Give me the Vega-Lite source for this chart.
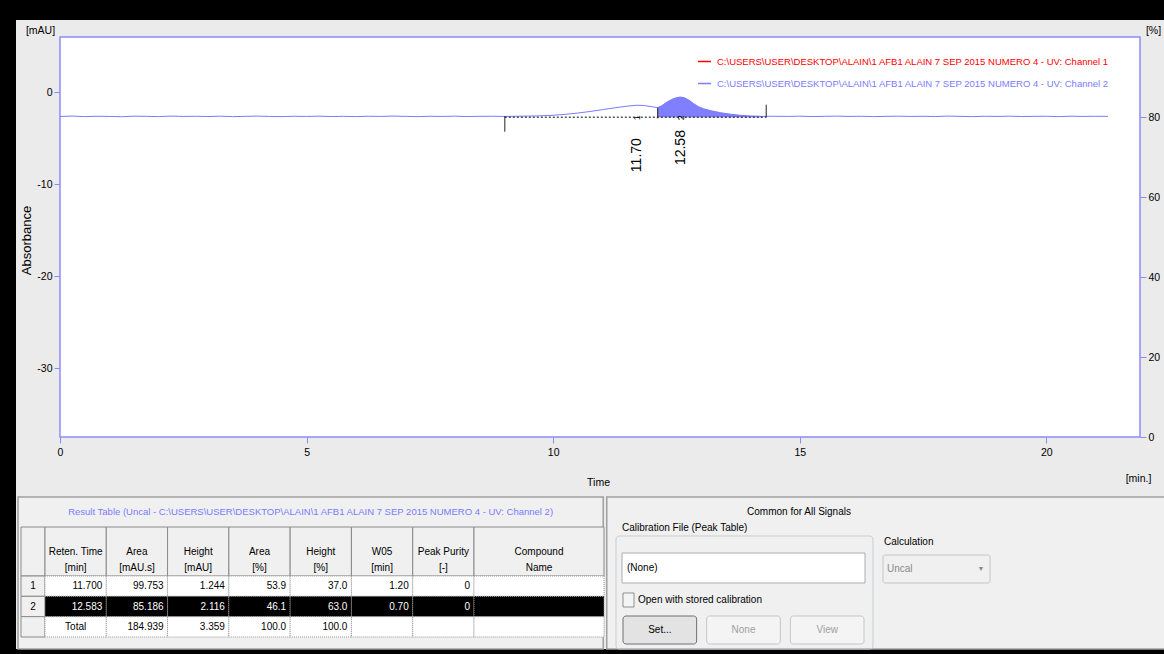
{
  "$schema": "https://vega.github.io/schema/vega-lite/v6.json",
  "width": 1148,
  "height": 629,
  "padding": {"left": 16, "top": 20, "right": 0, "bottom": 5},
  "autosize": {"type": "none"},
  "background": "#000000",
  "config": {
    "view": {"fill": "#ebebeb", "stroke": null},
    "font": "Liberation Sans",
    "text": {"fontSize": 10, "color": "#000000"},
    "axis": {"labelFont": "Liberation Sans", "titleFont": "Liberation Sans", "labelColor": "#000000", "titleColor": "#000000"},
    "legend": {"labelFont": "Liberation Sans"}
  },
  "datasets": {
    "trace": [
      {"time": 0, "signal": -2.64}, {"time": 0.25, "signal": -2.6}, {"time": 0.5, "signal": -2.66}, {"time": 0.75, "signal": -2.62},
      {"time": 1, "signal": -2.64}, {"time": 1.25, "signal": -2.67}, {"time": 1.5, "signal": -2.61}, {"time": 1.75, "signal": -2.63},
      {"time": 2, "signal": -2.66}, {"time": 2.25, "signal": -2.6}, {"time": 2.5, "signal": -2.64}, {"time": 2.75, "signal": -2.62},
      {"time": 3, "signal": -2.65}, {"time": 3.25, "signal": -2.61}, {"time": 3.5, "signal": -2.66}, {"time": 3.75, "signal": -2.63},
      {"time": 4, "signal": -2.6}, {"time": 4.25, "signal": -2.64}, {"time": 4.5, "signal": -2.66}, {"time": 4.75, "signal": -2.62},
      {"time": 5, "signal": -2.64}, {"time": 5.25, "signal": -2.61}, {"time": 5.5, "signal": -2.65}, {"time": 5.75, "signal": -2.63},
      {"time": 6, "signal": -2.66}, {"time": 6.25, "signal": -2.62}, {"time": 6.5, "signal": -2.64}, {"time": 6.75, "signal": -2.6},
      {"time": 7, "signal": -2.63}, {"time": 7.25, "signal": -2.66}, {"time": 7.5, "signal": -2.62}, {"time": 7.75, "signal": -2.64},
      {"time": 8, "signal": -2.61}, {"time": 8.25, "signal": -2.65}, {"time": 8.5, "signal": -2.63}, {"time": 8.75, "signal": -2.62},
      {"time": 9, "signal": -2.64}, {"time": 9.25, "signal": -2.62}, {"time": 9.5, "signal": -2.6}, {"time": 9.75, "signal": -2.57},
      {"time": 10, "signal": -2.51}, {"time": 10.25, "signal": -2.41}, {"time": 10.5, "signal": -2.27}, {"time": 10.75, "signal": -2.1},
      {"time": 11, "signal": -1.9}, {"time": 11.25, "signal": -1.7}, {"time": 11.5, "signal": -1.52}, {"time": 11.7, "signal": -1.42},
      {"time": 11.85, "signal": -1.46}, {"time": 12, "signal": -1.58}, {"time": 12.12, "signal": -1.68}, {"time": 12.2, "signal": -1.48},
      {"time": 12.3, "signal": -1.1}, {"time": 12.4, "signal": -0.8}, {"time": 12.5, "signal": -0.6}, {"time": 12.58, "signal": -0.53},
      {"time": 12.66, "signal": -0.6}, {"time": 12.75, "signal": -0.85}, {"time": 12.85, "signal": -1.25}, {"time": 12.95, "signal": -1.58},
      {"time": 13.05, "signal": -1.8}, {"time": 13.2, "signal": -2.02}, {"time": 13.4, "signal": -2.24}, {"time": 13.6, "signal": -2.4},
      {"time": 13.8, "signal": -2.52}, {"time": 14, "signal": -2.59}, {"time": 14.25, "signal": -2.63}, {"time": 14.5, "signal": -2.62},
      {"time": 14.75, "signal": -2.64}, {"time": 15, "signal": -2.61}, {"time": 15.25, "signal": -2.65}, {"time": 15.5, "signal": -2.63},
      {"time": 15.75, "signal": -2.6}, {"time": 16, "signal": -2.64}, {"time": 16.25, "signal": -2.62}, {"time": 16.5, "signal": -2.66},
      {"time": 16.75, "signal": -2.63}, {"time": 17, "signal": -2.61}, {"time": 17.25, "signal": -2.64}, {"time": 17.5, "signal": -2.62},
      {"time": 17.75, "signal": -2.65}, {"time": 18, "signal": -2.6}, {"time": 18.25, "signal": -2.63}, {"time": 18.5, "signal": -2.66},
      {"time": 18.75, "signal": -2.62}, {"time": 19, "signal": -2.64}, {"time": 19.25, "signal": -2.61}, {"time": 19.5, "signal": -2.65},
      {"time": 19.75, "signal": -2.63}, {"time": 20, "signal": -2.62}, {"time": 20.25, "signal": -2.66}, {"time": 20.5, "signal": -2.61},
      {"time": 20.75, "signal": -2.64}, {"time": 21, "signal": -2.62}, {"time": 21.25, "signal": -2.63}
    ],
    "peaks": [
      {"peak": "1", "rt": 11.7, "apex": -1.41, "label": "11.70"},
      {"peak": "2", "rt": 12.583, "apex": -0.53, "label": "12.58"}
    ],
    "baselines": [{"start": 9.02, "end": 14.32, "level": -2.72}],
    "markers": [
      {"time": 9.02, "upper": -2.6, "lower": -4.3},
      {"time": 12.12, "upper": -1.7, "lower": -2.85},
      {"time": 14.32, "upper": -1.36, "lower": -2.75}
    ],
    "panels": [
      {"side": "left", "pane": "Result Table (Uncal - C:\\USERS\\USER\\DESKTOP\\ALAIN\\1 AFB1 ALAIN 7 SEP 2015 NUMERO 4 - UV: Channel 2)"},
      {"side": "right", "pane": "Common for All Signals"}
    ],
    "columns": [
      {"key": "#", "caption": ""},
      {"key": "rt", "caption": "Reten. Time\n[min]"},
      {"key": "area", "caption": "Area\n[mAU.s]"},
      {"key": "height", "caption": "Height\n[mAU]"},
      {"key": "areaPct", "caption": "Area\n[%]"},
      {"key": "heightPct", "caption": "Height\n[%]"},
      {"key": "w05", "caption": "W05\n[min]"},
      {"key": "purity", "caption": "Peak Purity\n[-]"},
      {"key": "compound", "caption": "Compound\nName"}
    ],
    "results": [
      {"row": "1", "rt": "11.700", "area": "99.753", "height": "1.244", "areaPct": "53.9", "heightPct": "37.0", "w05": "1.20", "purity": "0", "compound": ""},
      {"row": "2", "rt": "12.583", "area": "85.186", "height": "2.116", "areaPct": "46.1", "heightPct": "63.0", "w05": "0.70", "purity": "0", "compound": ""},
      {"row": "Total", "rt": "Total", "area": "184.939", "height": "3.359", "areaPct": "100.0", "heightPct": "100.0", "w05": "", "purity": "", "compound": ""}
    ],
    "form": [
      {"setting": "Calibration File (Peak Table)", "value": "(None)"},
      {"setting": "Calculation", "value": "Uncal"}
    ],
    "options": [{"option": "Open with stored calibration", "checked": false}],
    "buttons": [
      {"button": "Set...", "enabled": true},
      {"button": "None", "enabled": false},
      {"button": "View", "enabled": false}
    ]
  },
  "resolve": {
    "scale": {"x": "independent", "y": "independent", "color": "independent"},
    "axis": {"x": "independent", "y": "independent"},
    "legend": {"color": "independent"}
  },
  "layer": [
    {
      "data": {"name": "panels"},
      "layer": [
        {
          "mark": {"type": "rect", "fill": "#f0f0f0", "stroke": "#a0a0a0", "strokeWidth": 1.5},
          "encoding": {
            "x": {"field": "side", "type": "nominal", "scale": {"type": "band", "domain": ["left", "right"], "range": [2, 1176], "paddingInner": 0.006, "paddingOuter": 0}, "axis": null},
            "y": {"datum": "dock", "type": "nominal", "scale": {"type": "band", "domain": ["dock"], "range": [477, 629], "paddingInner": 0, "paddingOuter": 0}, "axis": null}
          }
        },
        {
          "transform": [{"filter": "datum.side === 'left'"}],
          "mark": {"type": "text", "color": "#7b7bff", "align": "center", "baseline": "middle", "dy": 15, "fontSize": 9.5},
          "encoding": {
            "x": {"field": "side", "type": "nominal", "scale": {"type": "band", "domain": ["left", "right"], "range": [2, 1176], "paddingInner": 0.006, "paddingOuter": 0}, "axis": null},
            "y": {"datum": "dock", "type": "nominal", "bandPosition": 0, "scale": {"type": "band", "domain": ["dock"], "range": [477, 629], "paddingInner": 0, "paddingOuter": 0}, "axis": null},
            "text": {"field": "pane"}
          }
        }
      ]
    },
    {
      "resolve": {
        "scale": {"color": "independent"},
        "axis": {"x": "independent", "y": "independent"},
        "legend": {"color": "independent"}
      },
      "layer": [
        {
          "data": {"values": [{"region": "plot"}]},
          "mark": {"type": "rect", "fill": "#ffffff", "stroke": "#8c8cff", "strokeWidth": 1.5},
          "encoding": {
            "x": {"datum": 0, "type": "quantitative", "scale": {"domain": [0, 21.9], "range": [44, 1124], "nice": false, "zero": false},
              "axis": {"orient": "bottom", "offset": -212, "values": [0, 5, 10, 15, 20], "format": "d", "grid": false, "domain": false, "tickColor": "#8c8cff", "tickSize": 6, "labelFlush": false, "labelPadding": 4, "labelFontSize": 10.5, "labelOverlap": false, "title": "Time", "titleFontSize": 10.5, "titleFontWeight": "normal", "titleX": 582, "titleY": 45, "titleAlign": "center", "titleBaseline": "middle", "titleAngle": 0}},
            "x2": {"datum": 21.9},
            "y": {"datum": -37.5, "type": "quantitative", "scale": {"domain": [-37.5, 6], "range": [417, 17], "nice": false, "zero": false},
              "axis": {"orient": "left", "offset": -44, "values": [0, -10, -20, -30], "labelExpr": "'' + datum.value", "grid": false, "domain": false, "tickColor": "#8c8cff", "tickSize": 6, "labelFlush": false, "labelPadding": 2, "labelFontSize": 10.5, "title": "[mAU]", "titleAngle": 0, "titleFontSize": 10.5, "titleFontWeight": "normal", "titleX": -20, "titleY": 10, "titleAlign": "center", "titleBaseline": "middle"}},
            "y2": {"datum": 6}
          }
        },
        {
          "data": {"name": "trace"},
          "transform": [{"filter": "datum.time >= 12.12 && datum.time <= 14.25"}],
          "mark": {"type": "area", "color": "#7f7fff", "opacity": 1},
          "encoding": {
            "x": {"field": "time", "type": "quantitative", "scale": {"domain": [0, 21.9], "range": [44, 1124], "nice": false, "zero": false}, "axis": null},
            "y": {"field": "signal", "type": "quantitative", "scale": {"domain": [-37.5, 6], "range": [417, 17], "nice": false, "zero": false},
              "axis": {"orient": "right", "offset": -24, "values": [-37.5, -28.8, -20.1, -11.4, -2.7], "labelExpr": "format((datum.value + 37.5) / 0.435, '.0f')", "grid": false, "domain": false, "tickColor": "#8c8cff", "tickSize": 6, "labelFlush": false, "labelPadding": 2, "labelFontSize": 10.5, "title": "[%]", "titleAngle": 0, "titleFontSize": 10.5, "titleFontWeight": "normal", "titleX": 13, "titleY": 10, "titleAlign": "center", "titleBaseline": "middle"}},
            "y2": {"datum": -2.72}
          }
        },
        {
          "data": {"values": []},
          "mark": {"type": "line", "strokeWidth": 1.5},
          "encoding": {
            "x": {"field": "time", "type": "quantitative", "scale": {"domain": [0, 21.9], "range": [44, 1124], "nice": false, "zero": false}, "axis": null},
            "y": {"field": "signal", "type": "quantitative", "scale": {"domain": [-37.5, 6], "range": [417, 17], "nice": false, "zero": false}, "axis": null},
            "color": {"datum": "C:\\USERS\\USER\\DESKTOP\\ALAIN\\1 AFB1 ALAIN 7 SEP 2015 NUMERO 4 - UV: Channel 1", "type": "nominal",
              "scale": {"domain": ["C:\\USERS\\USER\\DESKTOP\\ALAIN\\1 AFB1 ALAIN 7 SEP 2015 NUMERO 4 - UV: Channel 1"], "range": ["#ff0000"]},
              "legend": {"orient": "none", "legendX": 681, "legendY": 34, "title": null, "symbolType": "stroke", "symbolSize": 170, "symbolStrokeWidth": 1.5, "labelFontSize": 9.5, "labelLimit": 0, "labelColor": "#ff0000", "labelOffset": 5, "padding": 0}}
          }
        },
        {
          "data": {"name": "trace"},
          "mark": {"type": "line", "strokeWidth": 1},
          "encoding": {
            "x": {"field": "time", "type": "quantitative", "scale": {"domain": [0, 21.9], "range": [44, 1124], "nice": false, "zero": false},
              "axis": {"orient": "bottom", "offset": -212, "labels": false, "ticks": false, "domain": false, "grid": false, "title": "[min.]", "titleFontSize": 10.5, "titleFontWeight": "normal", "titleX": 1122, "titleY": 41, "titleAlign": "center", "titleBaseline": "middle", "titleAngle": 0}},
            "y": {"field": "signal", "type": "quantitative", "scale": {"domain": [-37.5, 6], "range": [417, 17], "nice": false, "zero": false},
              "axis": {"orient": "left", "offset": -44, "labels": false, "ticks": false, "domain": false, "grid": false, "title": "Absorbance", "titleAngle": 270, "titleFont": "Liberation Sans", "titleFontSize": 13, "titleFontWeight": "normal", "titleX": -34, "titleY": 220, "titleAlign": "center", "titleBaseline": "middle"}},
            "color": {"datum": "C:\\USERS\\USER\\DESKTOP\\ALAIN\\1 AFB1 ALAIN 7 SEP 2015 NUMERO 4 - UV: Channel 2", "type": "nominal",
              "scale": {"domain": ["C:\\USERS\\USER\\DESKTOP\\ALAIN\\1 AFB1 ALAIN 7 SEP 2015 NUMERO 4 - UV: Channel 2"], "range": ["#7b7bff"]},
              "legend": {"orient": "none", "legendX": 681, "legendY": 56, "title": null, "symbolType": "stroke", "symbolSize": 170, "symbolStrokeWidth": 1.5, "labelFontSize": 9.5, "labelLimit": 0, "labelColor": "#7b7bff", "labelOffset": 5, "padding": 0}}
          }
        },
        {
          "data": {"name": "baselines"},
          "mark": {"type": "rule", "color": "#000000", "strokeDash": [2, 2], "strokeWidth": 1},
          "encoding": {
            "x": {"field": "start", "type": "quantitative", "scale": {"domain": [0, 21.9], "range": [44, 1124], "nice": false, "zero": false}, "axis": null},
            "x2": {"field": "end"},
            "y": {"field": "level", "type": "quantitative", "scale": {"domain": [-37.5, 6], "range": [417, 17], "nice": false, "zero": false}, "axis": null}
          }
        },
        {
          "data": {"name": "markers"},
          "mark": {"type": "rule", "color": "#222222", "strokeWidth": 1},
          "encoding": {
            "x": {"field": "time", "type": "quantitative", "scale": {"domain": [0, 21.9], "range": [44, 1124], "nice": false, "zero": false}, "axis": null},
            "y": {"field": "upper", "type": "quantitative", "scale": {"domain": [-37.5, 6], "range": [417, 17], "nice": false, "zero": false}, "axis": null},
            "y2": {"field": "lower"}
          }
        },
        {
          "data": {"name": "peaks"},
          "mark": {"type": "text", "angle": 270, "align": "right", "baseline": "middle", "dx": -33, "font": "Liberation Sans", "fontSize": 14, "color": "#000000"},
          "encoding": {
            "x": {"field": "rt", "type": "quantitative", "scale": {"domain": [0, 21.9], "range": [44, 1124], "nice": false, "zero": false}, "axis": null},
            "y": {"field": "apex", "type": "quantitative", "scale": {"domain": [-37.5, 6], "range": [417, 17], "nice": false, "zero": false}, "axis": null},
            "text": {"field": "label"}
          }
        },
        {
          "data": {"name": "peaks"},
          "mark": {"type": "text", "angle": 270, "align": "left", "baseline": "middle", "dx": -3, "font": "Liberation Sans", "fontSize": 9, "color": "#000000"},
          "encoding": {
            "x": {"field": "rt", "type": "quantitative", "scale": {"domain": [0, 21.9], "range": [44, 1124], "nice": false, "zero": false}, "axis": null},
            "y": {"datum": -2.72, "type": "quantitative", "scale": {"domain": [-37.5, 6], "range": [417, 17], "nice": false, "zero": false}, "axis": null},
            "text": {"field": "peak"}
          }
        }
      ]
    },
    {
      "data": {"name": "columns"},
      "transform": [{"filter": "datum.key === '#'"}],
      "mark": {"type": "rect", "fill": "#f0f0f0", "stroke": "#8a8a8a", "strokeWidth": 1},
      "encoding": {
        "x": {"field": "key", "type": "nominal", "scale": {"type": "band", "domain": ["#"], "range": [5, 29], "paddingInner": 0, "paddingOuter": 0}, "axis": null},
        "y": {"datum": "header", "type": "nominal", "scale": {"type": "band", "domain": ["header"], "range": [507, 556], "paddingInner": 0, "paddingOuter": 0}, "axis": null}
      }
    },
    {
      "data": {"name": "columns"},
      "transform": [{"filter": "datum.key !== '#' && datum.key !== 'compound'"}],
      "layer": [
        {
          "mark": {"type": "rect", "fill": "#f0f0f0", "stroke": "#8a8a8a", "strokeWidth": 1},
          "encoding": {
            "x": {"field": "key", "type": "nominal", "scale": {"type": "band", "domain": ["rt", "area", "height", "areaPct", "heightPct", "w05", "purity"], "range": [29, 458], "paddingInner": 0, "paddingOuter": 0}, "axis": null},
            "y": {"datum": "header", "type": "nominal", "scale": {"type": "band", "domain": ["header"], "range": [507, 556], "paddingInner": 0, "paddingOuter": 0}, "axis": null}
          }
        },
        {
          "mark": {"type": "text", "align": "center", "baseline": "middle", "lineBreak": "\n", "lineHeight": 16, "fontSize": 10},
          "encoding": {
            "x": {"field": "key", "type": "nominal", "scale": {"type": "band", "domain": ["rt", "area", "height", "areaPct", "heightPct", "w05", "purity"], "range": [29, 458], "paddingInner": 0, "paddingOuter": 0}, "axis": null},
            "y": {"datum": "header", "type": "nominal", "scale": {"type": "band", "domain": ["header"], "range": [507, 556], "paddingInner": 0, "paddingOuter": 0}, "axis": null},
            "text": {"field": "caption"}
          }
        }
      ]
    },
    {
      "data": {"name": "columns"},
      "transform": [{"filter": "datum.key === 'compound'"}],
      "layer": [
        {
          "mark": {"type": "rect", "fill": "#f0f0f0", "stroke": "#8a8a8a", "strokeWidth": 1},
          "encoding": {
            "x": {"field": "key", "type": "nominal", "scale": {"type": "band", "domain": ["compound"], "range": [458, 588], "paddingInner": 0, "paddingOuter": 0}, "axis": null},
            "y": {"datum": "header", "type": "nominal", "scale": {"type": "band", "domain": ["header"], "range": [507, 556], "paddingInner": 0, "paddingOuter": 0}, "axis": null}
          }
        },
        {
          "mark": {"type": "text", "align": "center", "baseline": "middle", "lineBreak": "\n", "lineHeight": 16, "fontSize": 10},
          "encoding": {
            "x": {"field": "key", "type": "nominal", "scale": {"type": "band", "domain": ["compound"], "range": [458, 588], "paddingInner": 0, "paddingOuter": 0}, "axis": null},
            "y": {"datum": "header", "type": "nominal", "scale": {"type": "band", "domain": ["header"], "range": [507, 556], "paddingInner": 0, "paddingOuter": 0}, "axis": null},
            "text": {"field": "caption"}
          }
        }
      ]
    },
    {
      "data": {"name": "results"},
      "layer": [
        {
          "mark": {"type": "rect", "fill": "#f0f0f0", "stroke": "#8a8a8a", "strokeWidth": 1},
          "encoding": {
            "x": {"datum": "#", "type": "nominal", "scale": {"type": "band", "domain": ["#"], "range": [5, 29], "paddingInner": 0, "paddingOuter": 0}, "axis": null},
            "y": {"field": "row", "type": "nominal", "scale": {"type": "band", "domain": ["1", "2", "Total"], "range": [556, 617], "paddingInner": 0, "paddingOuter": 0}, "axis": null}
          }
        },
        {
          "transform": [{"filter": "datum.row !== 'Total'"}],
          "mark": {"type": "text", "align": "center", "baseline": "middle", "fontSize": 10},
          "encoding": {
            "x": {"datum": "#", "type": "nominal", "scale": {"type": "band", "domain": ["#"], "range": [5, 29], "paddingInner": 0, "paddingOuter": 0}, "axis": null},
            "y": {"field": "row", "type": "nominal", "scale": {"type": "band", "domain": ["1", "2", "Total"], "range": [556, 617], "paddingInner": 0, "paddingOuter": 0}, "axis": null},
            "text": {"field": "row"}
          }
        }
      ]
    },
    {
      "data": {"name": "results"},
      "transform": [{"fold": ["rt", "area", "height", "areaPct", "heightPct", "w05", "purity"], "as": ["key", "value"]}],
      "layer": [
        {
          "mark": {"type": "rect", "stroke": "#9a9a9a", "strokeDash": [1, 1], "strokeWidth": 1},
          "encoding": {
            "x": {"field": "key", "type": "nominal", "scale": {"type": "band", "domain": ["rt", "area", "height", "areaPct", "heightPct", "w05", "purity"], "range": [29, 458], "paddingInner": 0, "paddingOuter": 0}, "axis": null},
            "y": {"field": "row", "type": "nominal", "scale": {"type": "band", "domain": ["1", "2", "Total"], "range": [556, 617], "paddingInner": 0, "paddingOuter": 0}, "axis": null},
            "fill": {"condition": {"test": "datum.row === '2'", "value": "#000000"}, "value": "#ffffff"}
          }
        },
        {
          "transform": [{"filter": "datum.value !== 'Total'"}],
          "mark": {"type": "text", "align": "right", "baseline": "middle", "dx": -4, "fontSize": 10},
          "encoding": {
            "x": {"field": "key", "type": "nominal", "bandPosition": 1, "scale": {"type": "band", "domain": ["rt", "area", "height", "areaPct", "heightPct", "w05", "purity"], "range": [29, 458], "paddingInner": 0, "paddingOuter": 0}, "axis": null},
            "y": {"field": "row", "type": "nominal", "scale": {"type": "band", "domain": ["1", "2", "Total"], "range": [556, 617], "paddingInner": 0, "paddingOuter": 0}, "axis": null},
            "text": {"field": "value"},
            "color": {"condition": {"test": "datum.row === '2'", "value": "#ffffff"}, "value": "#000000"}
          }
        },
        {
          "transform": [{"filter": "datum.value === 'Total'"}],
          "mark": {"type": "text", "align": "center", "baseline": "middle", "fontSize": 10, "color": "#000000"},
          "encoding": {
            "x": {"field": "key", "type": "nominal", "scale": {"type": "band", "domain": ["rt", "area", "height", "areaPct", "heightPct", "w05", "purity"], "range": [29, 458], "paddingInner": 0, "paddingOuter": 0}, "axis": null},
            "y": {"field": "row", "type": "nominal", "scale": {"type": "band", "domain": ["1", "2", "Total"], "range": [556, 617], "paddingInner": 0, "paddingOuter": 0}, "axis": null},
            "text": {"field": "value"}
          }
        }
      ]
    },
    {
      "data": {"name": "results"},
      "mark": {"type": "rect", "stroke": "#9a9a9a", "strokeDash": [1, 1], "strokeWidth": 1},
      "encoding": {
        "x": {"datum": "compound", "type": "nominal", "scale": {"type": "band", "domain": ["compound"], "range": [458, 588], "paddingInner": 0, "paddingOuter": 0}, "axis": null},
        "y": {"field": "row", "type": "nominal", "scale": {"type": "band", "domain": ["1", "2", "Total"], "range": [556, 617], "paddingInner": 0, "paddingOuter": 0}, "axis": null},
        "fill": {"condition": {"test": "datum.row === '2'", "value": "#000000"}, "value": "#ffffff"}
      }
    },
    {
      "data": {"name": "panels"},
      "transform": [{"filter": "datum.side === 'right'"}],
      "mark": {"type": "text", "align": "center", "baseline": "middle", "fontSize": 10, "color": "#000000"},
      "encoding": {
        "x": {"field": "pane", "type": "nominal", "scale": {"type": "band", "domain": ["Common for All Signals"], "range": [591, 975], "paddingInner": 0, "paddingOuter": 0}, "axis": null},
        "y": {"field": "pane", "type": "nominal", "scale": {"type": "band", "domain": ["Common for All Signals"], "range": [483, 501], "paddingInner": 0, "paddingOuter": 0}, "axis": null},
        "text": {"field": "pane"}
      }
    },
    {
      "data": {"name": "form"},
      "transform": [{"filter": "datum.setting === 'Calibration File (Peak Table)'"}],
      "layer": [
        {
          "mark": {"type": "rect", "fill": "transparent", "stroke": "#c8cdd2", "strokeWidth": 1, "cornerRadius": 3},
          "encoding": {
            "x": {"field": "setting", "type": "nominal", "scale": {"type": "band", "domain": ["Calibration File (Peak Table)"], "range": [600, 857], "paddingInner": 0, "paddingOuter": 0}, "axis": null},
            "y": {"field": "setting", "type": "nominal", "scale": {"type": "band", "domain": ["Calibration File (Peak Table)"], "range": [516, 629], "paddingInner": 0, "paddingOuter": 0}, "axis": null}
          }
        },
        {
          "mark": {"type": "text", "align": "left", "baseline": "middle", "dx": 6, "dy": -8, "fontSize": 10, "color": "#000000"},
          "encoding": {
            "x": {"field": "setting", "type": "nominal", "bandPosition": 0, "scale": {"type": "band", "domain": ["Calibration File (Peak Table)"], "range": [600, 857], "paddingInner": 0, "paddingOuter": 0}, "axis": null},
            "y": {"field": "setting", "type": "nominal", "bandPosition": 0, "scale": {"type": "band", "domain": ["Calibration File (Peak Table)"], "range": [516, 629], "paddingInner": 0, "paddingOuter": 0}, "axis": null},
            "text": {"field": "setting"}
          }
        }
      ]
    },
    {
      "data": {"name": "form"},
      "transform": [{"filter": "datum.setting === 'Calibration File (Peak Table)'"}],
      "layer": [
        {
          "mark": {"type": "rect", "fill": "#ffffff", "stroke": "#abadb3", "strokeWidth": 1},
          "encoding": {
            "x": {"field": "setting", "type": "nominal", "scale": {"type": "band", "domain": ["Calibration File (Peak Table)"], "range": [606, 849], "paddingInner": 0, "paddingOuter": 0}, "axis": null},
            "y": {"field": "setting", "type": "nominal", "scale": {"type": "band", "domain": ["Calibration File (Peak Table)"], "range": [533, 563], "paddingInner": 0, "paddingOuter": 0}, "axis": null}
          }
        },
        {
          "mark": {"type": "text", "align": "left", "baseline": "middle", "dx": 5, "fontSize": 10, "color": "#000000"},
          "encoding": {
            "x": {"field": "setting", "type": "nominal", "bandPosition": 0, "scale": {"type": "band", "domain": ["Calibration File (Peak Table)"], "range": [606, 849], "paddingInner": 0, "paddingOuter": 0}, "axis": null},
            "y": {"field": "setting", "type": "nominal", "scale": {"type": "band", "domain": ["Calibration File (Peak Table)"], "range": [533, 563], "paddingInner": 0, "paddingOuter": 0}, "axis": null},
            "text": {"field": "value"}
          }
        }
      ]
    },
    {
      "data": {"name": "options"},
      "layer": [
        {
          "mark": {"type": "rect", "fill": "#f4f4f4", "stroke": "#8e8f8f", "strokeWidth": 1},
          "encoding": {
            "x": {"field": "option", "type": "nominal", "scale": {"type": "band", "domain": ["Open with stored calibration"], "range": [607, 618], "paddingInner": 0, "paddingOuter": 0}, "axis": null},
            "y": {"field": "option", "type": "nominal", "scale": {"type": "band", "domain": ["Open with stored calibration"], "range": [573, 587], "paddingInner": 0, "paddingOuter": 0}, "axis": null}
          }
        },
        {
          "mark": {"type": "text", "align": "left", "baseline": "middle", "dx": 4, "fontSize": 10, "color": "#000000"},
          "encoding": {
            "x": {"field": "option", "type": "nominal", "bandPosition": 1, "scale": {"type": "band", "domain": ["Open with stored calibration"], "range": [607, 618], "paddingInner": 0, "paddingOuter": 0}, "axis": null},
            "y": {"field": "option", "type": "nominal", "scale": {"type": "band", "domain": ["Open with stored calibration"], "range": [573, 587], "paddingInner": 0, "paddingOuter": 0}, "axis": null},
            "text": {"field": "option"}
          }
        }
      ]
    },
    {
      "data": {"name": "buttons"},
      "layer": [
        {
          "mark": {"type": "rect", "cornerRadius": 3, "strokeWidth": 1},
          "encoding": {
            "x": {"field": "button", "type": "nominal", "scale": {"type": "band", "domain": ["Set...", "None", "View"], "range": [607, 848], "paddingInner": 0.12, "paddingOuter": 0}, "axis": null},
            "y": {"datum": "actions", "type": "nominal", "scale": {"type": "band", "domain": ["actions"], "range": [596, 624], "paddingInner": 0, "paddingOuter": 0}, "axis": null},
            "fill": {"condition": {"test": "datum.enabled", "value": "#e3e3e3"}, "value": "#f4f4f4"},
            "stroke": {"condition": {"test": "datum.enabled", "value": "#707070"}, "value": "#c5c5c5"}
          }
        },
        {
          "mark": {"type": "text", "align": "center", "baseline": "middle", "fontSize": 10},
          "encoding": {
            "x": {"field": "button", "type": "nominal", "scale": {"type": "band", "domain": ["Set...", "None", "View"], "range": [607, 848], "paddingInner": 0.12, "paddingOuter": 0}, "axis": null},
            "y": {"datum": "actions", "type": "nominal", "scale": {"type": "band", "domain": ["actions"], "range": [596, 624], "paddingInner": 0, "paddingOuter": 0}, "axis": null},
            "text": {"field": "button"},
            "color": {"condition": {"test": "datum.enabled", "value": "#000000"}, "value": "#a0a0a0"}
          }
        }
      ]
    },
    {
      "data": {"name": "form"},
      "transform": [{"filter": "datum.setting === 'Calculation'"}],
      "layer": [
        {
          "mark": {"type": "rect", "fill": "#f0f0f0", "stroke": "#c5c5c5", "strokeWidth": 1, "cornerRadius": 2},
          "encoding": {
            "x": {"field": "setting", "type": "nominal", "scale": {"type": "band", "domain": ["Calculation"], "range": [867, 974], "paddingInner": 0, "paddingOuter": 0}, "axis": null},
            "y": {"field": "setting", "type": "nominal", "scale": {"type": "band", "domain": ["Calculation"], "range": [535, 563], "paddingInner": 0, "paddingOuter": 0}, "axis": null}
          }
        },
        {
          "mark": {"type": "text", "align": "left", "baseline": "middle", "dx": 1, "dy": -13, "fontSize": 10, "color": "#000000"},
          "encoding": {
            "x": {"field": "setting", "type": "nominal", "bandPosition": 0, "scale": {"type": "band", "domain": ["Calculation"], "range": [867, 974], "paddingInner": 0, "paddingOuter": 0}, "axis": null},
            "y": {"field": "setting", "type": "nominal", "bandPosition": 0, "scale": {"type": "band", "domain": ["Calculation"], "range": [535, 563], "paddingInner": 0, "paddingOuter": 0}, "axis": null},
            "text": {"field": "setting"}
          }
        },
        {
          "mark": {"type": "text", "align": "left", "baseline": "middle", "dx": 4, "fontSize": 10, "color": "#8a8a8a"},
          "encoding": {
            "x": {"field": "setting", "type": "nominal", "bandPosition": 0, "scale": {"type": "band", "domain": ["Calculation"], "range": [867, 974], "paddingInner": 0, "paddingOuter": 0}, "axis": null},
            "y": {"field": "setting", "type": "nominal", "scale": {"type": "band", "domain": ["Calculation"], "range": [535, 563], "paddingInner": 0, "paddingOuter": 0}, "axis": null},
            "text": {"field": "value"}
          }
        },
        {
          "mark": {"type": "text", "align": "center", "baseline": "middle", "dx": -9, "fontSize": 7, "color": "#8a8a8a"},
          "encoding": {
            "x": {"field": "setting", "type": "nominal", "bandPosition": 1, "scale": {"type": "band", "domain": ["Calculation"], "range": [867, 974], "paddingInner": 0, "paddingOuter": 0}, "axis": null},
            "y": {"field": "setting", "type": "nominal", "scale": {"type": "band", "domain": ["Calculation"], "range": [535, 563], "paddingInner": 0, "paddingOuter": 0}, "axis": null},
            "text": {"value": "▼"}
          }
        }
      ]
    }
  ]
}
